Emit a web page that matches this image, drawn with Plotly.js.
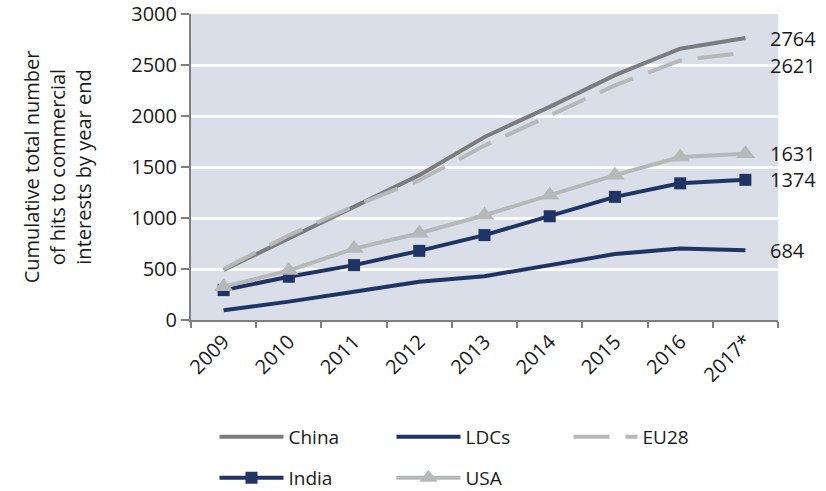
<!DOCTYPE html>
<html><head><meta charset="utf-8">
<script src="https://cdn.plot.ly/plotly-3.0.1.min.js"></script>
<style>html,body{margin:0;padding:0;background:#fff}#chart{width:826px;height:491px}</style>
</head><body><div id="chart"></div>
<script>
var years = ["2009","2010","2011","2012","2013","2014","2015","2016","2017*"];
var china = [490, 800, 1110, 1420, 1795, 2090, 2400, 2660, 2764];
var ldcs  = [95, 180, 277, 375, 430, 538, 646, 700, 684];
var eu28  = [500, 830, 1118, 1370, 1710, 2000, 2300, 2545, 2621];
var india = [293, 424, 538, 678, 832, 1017, 1207, 1340, 1374];
var usa   = [326, 485, 700, 850, 1027, 1223, 1420, 1598, 1631];
var endLabels = [
  {v: china[8], yshift: 0},
  {v: eu28[8], yshift: -13},
  {v: usa[8], yshift: 0},
  {v: india[8], yshift: 0},
  {v: ldcs[8], yshift: 0}
];
var navy = "#1f3464", dark = "#7b7c7e", light = "#b6b8b9";
var traces = [
  {x: years, y: china, name: "China", legend: "legend", mode: "lines", line: {color: dark, width: 4}},
  {x: years, y: ldcs, name: "LDCs", legend: "legend", mode: "lines", line: {color: navy, width: 4}},
  {x: years, y: eu28, name: "EU28", legend: "legend", mode: "lines", line: {color: light, width: 4, dash: "36px,16px"}},
  {x: years, y: india, name: "India", legend: "legend2", mode: "lines+markers", line: {color: navy, width: 4}, marker: {symbol: "square", size: 12, color: navy}},
  {x: years, y: usa, name: "USA", legend: "legend2", mode: "lines+markers", line: {color: light, width: 4}, marker: {symbol: "triangle-up", size: 17, color: light}}
];
var ann = endLabels.map(function(d){
  return {xref: "paper", x: 1, xshift: -10, xanchor: "left", yref: "y", y: d.v, yshift: d.yshift,
          text: String(d.v), showarrow: false, font: {size: 20, color: "#1a1a1a"}};
});
var legBase = {orientation: "h", x: 0.04, xanchor: "left", yanchor: "middle",
               entrywidth: 98, traceorder: "normal", itemwidth: 64, font: {size: 19}, bgcolor: "rgba(0,0,0,0)"};
var layout = {
  width: 826, height: 491,
  margin: {l: 191, r: 48, t: 14, b: 171, autoexpand: false},
  paper_bgcolor: "#fff", plot_bgcolor: "#d9dee8",
  font: {family: "Open Sans, Noto Sans, sans-serif", size: 20, color: "#1a1a1a"},
  showlegend: true,
  legend: Object.assign({}, legBase, {y: -0.382}),
  legend2: Object.assign({}, legBase, {y: -0.516}),
  xaxis: {type: "category", tickangle: -45, showline: true, linecolor: "#7f7f7f", linewidth: 2,
          ticks: "outside", ticklen: 6, tickcolor: "#7f7f7f", tickwidth: 2, showgrid: false,
          tickson: "boundaries", tickfont: {size: 20}, range: [-0.5, 8.5]},
  yaxis: {range: [0, 3000], dtick: 500, showline: true, linecolor: "#7f7f7f", linewidth: 2,
          ticks: "outside", ticklen: 8, tickcolor: "#7f7f7f", tickwidth: 2, gridcolor: "#ffffff", gridwidth: 3,
          zeroline: false, tickfont: {size: 20},
          title: {text: "Cumulative total number<br>of hits to commercial<br>interests by year end", font: {size: 20}, standoff: 34}},
  annotations: ann
};
Plotly.newPlot("chart", traces, layout, {displayModeBar: false, staticPlot: true});
</script></body></html>
